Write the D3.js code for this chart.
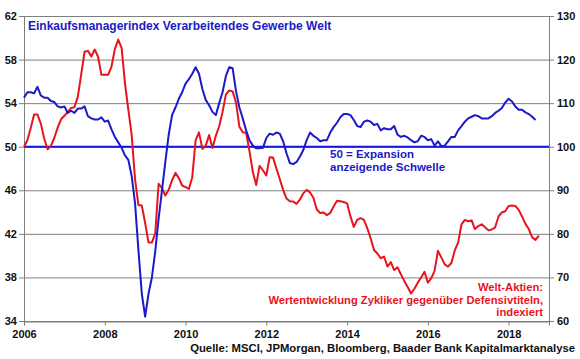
<!DOCTYPE html>
<html>
<head>
<meta charset="utf-8">
<script src="https://cdn.jsdelivr.net/npm/d3@7"></script>
<style>
  body { margin: 0; background: #fff; }
  text { font-family: "Liberation Sans", Arial, sans-serif; font-weight: bold; }
</style>
</head>
<body>
<figure id="chart" style="margin:0"></figure>
<script>
// monthly values, Jan 2006 onwards
const pmi = [
  54.5, 55.0, 55.0, 54.9, 55.5, 54.7, 54.5, 54.5, 54.2, 54.1, 53.7, 53.6,
  53.7, 53.1, 53.3, 53.1, 53.5, 53.5, 53.7, 52.8, 52.6, 52.5, 52.5, 52.7,
  52.3, 52.4, 51.6, 50.9, 50.4, 49.9, 49.2, 48.8, 47.3, 44.8, 40.5, 36.5,
  34.4, 36.5, 38.0, 40.4, 43.4, 46.0, 48.6, 51.1, 52.9, 53.6, 54.4, 55.0,
  55.8, 56.2, 56.7, 57.3, 56.7, 55.3, 54.3, 53.8, 53.2, 52.9, 54.0, 55.0,
  56.5, 57.3, 57.2, 55.1, 53.6, 52.6, 51.5, 50.6, 50.1, 49.85, 49.85, 49.9,
  50.8, 51.2, 51.1, 51.3, 51.2, 50.5, 49.4, 48.5, 48.4, 48.6, 49.1, 49.7,
  50.6, 51.3, 51.0, 50.8, 50.5, 50.6, 50.6, 51.3, 51.8, 52.2, 52.7, 53.0,
  53.0, 52.9, 52.45, 51.9, 51.8, 52.3, 52.4, 52.3, 52.0, 52.1, 51.5, 51.7,
  51.6, 51.6, 51.9, 51.1, 50.9, 51.0, 50.85, 50.6, 50.4, 50.5, 51.0, 50.9,
  50.6, 50.7, 50.1, 50.5, 50.05, 50.1, 50.5, 50.9, 50.9, 51.5, 51.9, 52.3,
  52.6, 52.75, 52.9, 52.8, 52.6, 52.6, 52.6, 52.8, 53.1, 53.3, 53.55, 54.05,
  54.4, 54.15, 53.7, 53.4, 53.4, 53.15, 53.0, 52.75, 52.45
];

const cyclicals = [
  100.0, 101.5, 104.3, 107.4, 107.4, 105.3, 101.9, 99.4, 100.2, 102.0, 104.4, 106.3,
  107.1, 108.0, 108.9, 109.05, 111.5, 116.6, 121.8, 122.0, 120.7, 122.3, 120.7, 116.5,
  116.5, 116.5, 118.4, 122.4, 124.6, 122.7, 114.6, 108.5, 102.7, 92.5, 86.6, 86.5,
  82.5, 78.0, 78.0, 80.1, 91.5, 90.5, 88.8, 90.1, 92.3, 94.0, 92.8, 91.1,
  90.7, 90.3, 93.0, 101.5, 103.3, 99.5, 100.2, 102.7, 99.7, 102.5, 104.7, 108.0,
  112.0, 112.9, 112.7, 110.1, 104.6, 103.3, 103.2, 99.0, 94.2, 91.2, 95.6, 94.6,
  93.4, 97.6, 97.5, 95.0, 92.6, 90.1, 88.1, 87.5, 87.4, 86.9, 87.9, 89.3,
  90.1, 89.5, 88.3, 85.6, 84.8, 84.9, 84.3, 84.8, 86.3, 87.6, 87.5, 87.3,
  87.0, 84.0, 81.6, 83.2, 83.6, 83.2, 81.3, 79.0, 76.3, 75.5, 74.4, 74.8,
  72.5, 73.5, 71.7, 72.3, 70.7, 69.2, 67.8, 66.3, 67.4, 68.8, 70.0, 71.3,
  68.8, 69.8, 71.5, 76.1, 74.6, 73.0, 72.5, 73.3, 76.2, 78.0, 82.2, 83.2,
  82.9, 83.1, 81.1, 81.8, 82.2, 81.5, 80.8, 81.0, 81.5, 84.0, 84.9, 85.2,
  86.4, 86.5, 86.4, 85.5, 84.0, 82.3, 81.1, 79.2, 78.6, 79.6
];

const leftTicks = [34, 38, 42, 46, 50, 54, 58, 62];
const rightTicks = [60, 70, 80, 90, 100, 110, 120, 130];
const yearTicks = [2006, 2008, 2010, 2012, 2014, 2016, 2018];
const threshold = 50;

const title = "Einkaufsmanagerindex Verarbeitendes Gewerbe Welt";
const thresholdNote = ["50 = Expansion", "anzeigende Schwelle"];
const equityNote = ["Welt-Aktien:", "Wertentwicklung Zykliker gegenüber Defensivtiteln,", "indexiert"];
const source = "Quelle: MSCI, JPMorgan, Bloomberg, Baader Bank Kapitalmarktanalyse";

const W = 580, H = 359;
const mLeft = 24, mRight = 549, mTop = 16, mBottom = 321;
const BLUE = "#1a1ac8", RED = "#e8141c", GRID = "#7f7f7f";

const svg = d3.select("figure#chart").append("svg")
  .attr("width", W).attr("height", H);

const x = d3.scaleLinear().domain([2006, 2019]).range([mLeft, mRight]);
const yL = d3.scaleLinear().domain([34, 62]).range([mBottom, mTop]);
const yR = d3.scaleLinear().domain([60, 130]).range([mBottom, mTop]);

// gridlines (with short tick stubs left and right)
svg.append("g").selectAll("line").data(leftTicks).enter().append("line")
  .attr("x1", mLeft - 5).attr("x2", mRight + 5)
  .attr("y1", d => yL(d) + 0.5).attr("y2", d => yL(d) + 0.5)
  .attr("stroke", GRID).attr("stroke-width", 1);

// axes lines
svg.append("line").attr("x1", mLeft + 0.5).attr("x2", mLeft + 0.5)
  .attr("y1", mTop).attr("y2", mBottom).attr("stroke", GRID);
svg.append("line").attr("x1", mRight + 0.5).attr("x2", mRight + 0.5)
  .attr("y1", mTop).attr("y2", mBottom).attr("stroke", GRID);

// bottom axis
const xAxis = svg.append("g").attr("transform", "translate(0," + (mBottom + 0.5) + ")")
  .call(d3.axisBottom(x).tickValues(yearTicks).tickFormat(d3.format("d")).tickSize(4).tickPadding(5));
xAxis.select(".domain").attr("stroke", GRID);
xAxis.selectAll(".tick line").attr("stroke", GRID);
xAxis.selectAll("text").attr("font-size", "11px").attr("fill", "#111")
  .attr("font-family", "Liberation Sans, Arial, sans-serif").attr("font-weight", "bold");

// left labels
svg.append("g").selectAll("text").data(leftTicks).enter().append("text")
  .attr("x", 17).attr("y", d => yL(d) + 4)
  .attr("text-anchor", "end").attr("font-size", "11px").attr("fill", "#111")
  .text(d => d);

// right labels
svg.append("g").selectAll("text").data(rightTicks).enter().append("text")
  .attr("x", 557).attr("y", d => yR(d) + 4)
  .attr("text-anchor", "start").attr("font-size", "11px").attr("fill", "#111")
  .text(d => d);

// 50 threshold line
svg.append("line")
  .attr("x1", mLeft).attr("x2", mRight)
  .attr("y1", yL(threshold)).attr("y2", yL(threshold))
  .attr("stroke", "#1414e6").attr("stroke-width", 2);

const t = i => 2006 + i / 12;

svg.append("path").datum(cyclicals)
  .attr("d", d3.line().x((d, i) => x(t(i))).y(d => yR(d)))
  .attr("fill", "none").attr("stroke", RED).attr("stroke-width", 2)
  .attr("stroke-linejoin", "round");

svg.append("path").datum(pmi)
  .attr("d", d3.line().x((d, i) => x(t(i))).y(d => yL(d)))
  .attr("fill", "none").attr("stroke", BLUE).attr("stroke-width", 2)
  .attr("stroke-linejoin", "round");

// texts
svg.append("text").attr("x", 28).attr("y", 30)
  .attr("font-size", "12px").attr("fill", BLUE).text(title);

svg.append("g").selectAll("text").data(thresholdNote).enter().append("text")
  .attr("x", 330).attr("y", (d, i) => 158 + i * 13)
  .attr("font-size", "11.5px").attr("fill", BLUE).text(d => d);

svg.append("g").selectAll("text").data(equityNote).enter().append("text")
  .attr("x", 543).attr("y", (d, i) => 291 + i * 12.5)
  .attr("text-anchor", "end").attr("font-size", "11.2px").attr("fill", RED).text(d => d);

svg.append("text").attr("x", 575).attr("y", 352)
  .attr("text-anchor", "end").attr("font-size", "11.3px").attr("fill", "#111").text(source);
</script>
</body>
</html>
